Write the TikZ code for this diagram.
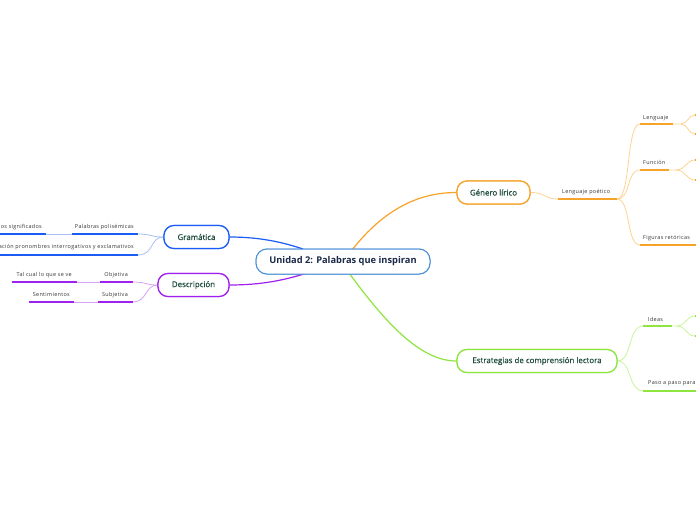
\documentclass[tikz,border=0pt]{standalone}
\usepackage{fontspec}
\setmainfont{Open Sans}
\newfontfamily\subfont[LetterSpace=6]{Open Sans}
\newfontfamily\topicfont[FakeBold=0.6]{Open Sans}
\definecolor{corange}{HTML}{F6A32A}
\definecolor{lorange}{HTML}{FDD391}
\definecolor{cgreen}{HTML}{8EE53F}
\definecolor{lgreen}{HTML}{C8F59B}
\definecolor{cblue}{HTML}{1A5CF5}
\definecolor{lblue}{HTML}{A8C1F7}
\definecolor{cpurple}{HTML}{A020F0}
\definecolor{lpurple}{HTML}{D9A3F5}
\definecolor{cenborder}{HTML}{4A90D9}
\definecolor{navy}{HTML}{1B2A4A}
\definecolor{tgreen}{HTML}{1E4D3A}
\definecolor{subgray}{HTML}{333333}
\tikzset{
  central/.style={draw=cenborder, line width=1pt, rounded corners=11pt, fill=white, text=navy,
    font=\fontsize{9.3}{11}\selectfont\bfseries, inner sep=0pt, minimum height=25pt, minimum width=174pt},
  topic/.style={line width=1.2pt, rounded corners=10pt, fill=white, text=tgreen,
    font=\topicfont\fontsize{7.9}{9}\selectfont, inner sep=0pt, minimum height=23pt},
  sub/.style={font=\subfont\fontsize{5.45}{6.5}\selectfont, text=subgray, inner sep=0pt},
  uline/.style={line width=2pt},
  conn/.style={line width=1.2pt},
  lconn/.style={line width=0.8pt},
}
\begin{document}
\begin{tikzpicture}[x=1pt,y=-1pt]
\useasboundingbox (0,0) rectangle (696,520);
\clip (0,0) rectangle (696,520);
\fill[white] (0,0) rectangle (696,520);

% main connector end points on the central node
\coordinate (cO) at (352,250);
\coordinate (cG) at (349,273);
\coordinate (cB) at (303,249);
\coordinate (cP) at (307,273);

% main nodes (placed first so connectors can use their anchors)
\node[central] (cen) at (343,261.5) {Unidad 2: Palabras que inspiran};
\node[topic, draw=corange, minimum width=73pt] (gen) at (493.5,192.5) {Género lírico};
\node[topic, draw=cgreen, minimum width=160pt] (est) at (537,361) {Estrategias de comprensión lectora};
\node[topic, draw=cblue, minimum width=65pt] (gra) at (196.5,237) {Gramática};
\node[topic, draw=cpurple, minimum width=71pt] (des) at (193.5,285) {Descripción};

\draw[conn, corange] (cO) .. controls (385,208) and (420,192.5) .. (gen.west);
\draw[conn, cgreen] (cG) .. controls (385,322) and (420,361) .. (est.west);
\draw[conn, cblue] (cB) .. controls (285,243) and (262,237) .. (gra.east);
\draw[conn, cpurple] (cP) .. controls (285,280) and (262,285) .. (des.east);

% ---------- Género lírico branch ----------
\coordinate (lpA) at (558,199); \coordinate (lpB) at (617,199);
\node[sub, anchor=west] (lp) at (562,192) {Lenguaje poético};
\draw[lconn, lorange] (gen.east) .. controls (546,192.5) and (544,199) .. (lpA);
\draw[uline, corange] (lpA) -- (lpB);

\coordinate (leA) at (640,124); \coordinate (leB) at (673,124); \coordinate (leC) at (681,124);
\node[sub, anchor=west] (le) at (643,118) {Lenguaje};
\coordinate (fuA) at (640,170); \coordinate (fuB) at (669,170); \coordinate (fuC) at (676,170);
\node[sub, anchor=west] (fu) at (643,162) {Función};
\coordinate (fiA) at (640,245); \coordinate (fiB) at (700,245);
\node[sub, anchor=west] (fi) at (643,238) {Figuras retóricas};

\draw[lconn, lorange] (lpB) .. controls (631,199) and (626,124) .. (leA);
\draw[lconn, lorange] (lpB) .. controls (631,199) and (626,170) .. (fuA);
\draw[lconn, lorange] (lpB) .. controls (631,199) and (626,245) .. (fiA);
\draw[uline, corange] (leA) -- (leB);
\draw[uline, corange] (fuA) -- (fuB);
\draw[uline, corange] (fiA) -- (fiB);

\coordinate (le1) at (695,115); \coordinate (le2) at (695,134);
\coordinate (fu1) at (695,160); \coordinate (fu2) at (695,180);
\draw[lconn, lorange] (leB) -- (leC) .. controls (688,124) and (688,115) .. (le1);
\draw[lconn, lorange] (leC) .. controls (688,124) and (688,134) .. (le2);
\draw[lconn, lorange] (fuB) -- (fuC) .. controls (686,170) and (686,160) .. (fu1);
\draw[lconn, lorange] (fuC) .. controls (686,170) and (686,180) .. (fu2);
\draw[uline, corange] (le1) -- ++(6,0);
\draw[uline, corange] (le2) -- ++(6,0);
\draw[uline, corange] (fu1) -- ++(6,0);
\draw[uline, corange] (fu2) -- ++(6,0);

% ---------- Estrategias branch ----------
\coordinate (idA) at (643,326); \coordinate (idB) at (672,326); \coordinate (idC) at (677,326);
\node[sub, anchor=west] (id) at (648,319) {Ideas};
\coordinate (paA) at (643,391); \coordinate (paB) at (700,391);
\node[sub, anchor=west] (pa) at (648,383.5) {Paso a paso para};
\draw[lconn, lgreen] (est.east) .. controls (632,361) and (628,326) .. (idA);
\draw[lconn, lgreen] (est.east) .. controls (632,361) and (628,391) .. (paA);
\draw[uline, cgreen] (idA) -- (idB);
\draw[uline, cgreen] (paA) -- (paB);
\coordinate (id1) at (695,316); \coordinate (id2) at (695,336);
\draw[lconn, lgreen] (idB) -- (idC) .. controls (686,326) and (686,316) .. (id1);
\draw[lconn, lgreen] (idC) .. controls (686,326) and (686,336) .. (id2);
\draw[uline, cgreen] (id1) -- ++(6,0);
\draw[uline, cgreen] (id2) -- ++(6,0);

% ---------- Gramática branch ----------
\coordinate (ppA) at (72,234); \coordinate (ppB) at (138,234);
\node[sub, anchor=east] (pp) at (134,227) {Palabras polisémicas};
\coordinate (osA) at (-5,234); \coordinate (osB) at (46,234);
\node[sub, anchor=east] (os) at (42,227) {os significados};
\coordinate (acA) at (-5,255); \coordinate (acB) at (138,255);
\node[sub, anchor=east] (ac) at (134,247.5) {ación pronombres interrogativos y exclamativos};
\draw[lconn, lblue] (gra.west) .. controls (150,237) and (152,234) .. (ppB);
\draw[lconn, lblue] (gra.west) .. controls (150,237) and (154,255) .. (acB);
\draw[lconn, lblue] (ppA) -- (osB);
\draw[uline, cblue] (ppA) -- (ppB);
\draw[uline, cblue] (osA) -- (osB);
\draw[uline, cblue] (acA) -- (acB);

% ---------- Descripción branch ----------
\coordinate (obA) at (100,282); \coordinate (obB) at (133,282);
\node[sub, anchor=east] (ob) at (128,275) {Objetiva};
\coordinate (tcA) at (12,282); \coordinate (tcB) at (77,282);
\node[sub, anchor=east] (tc) at (72,275) {Tal cual lo que se ve};
\coordinate (suA) at (98,302); \coordinate (suB) at (133,302);
\node[sub, anchor=east] (su) at (128,295) {Subjetiva};
\coordinate (seA) at (29,302); \coordinate (seB) at (74,302);
\node[sub, anchor=east] (se) at (70,295) {Sentimientos};
\draw[lconn, lpurple] (des.west) .. controls (145,285) and (147,282) .. (obB);
\draw[lconn, lpurple] (des.west) .. controls (145,285) and (147,302) .. (suB);
\draw[lconn, lpurple] (obA) -- (tcB);
\draw[lconn, lpurple] (suA) -- (seB);
\draw[uline, cpurple] (obA) -- (obB);
\draw[uline, cpurple] (tcA) -- (tcB);
\draw[uline, cpurple] (suA) -- (suB);
\draw[uline, cpurple] (seA) -- (seB);

% redraw main nodes on top of connector ends
\node[central] at (cen) {Unidad 2: Palabras que inspiran};
\node[topic, draw=corange, minimum width=73pt] at (gen) {Género lírico};
\node[topic, draw=cgreen, minimum width=160pt] at (est) {Estrategias de comprensión lectora};
\node[topic, draw=cblue, minimum width=65pt] at (gra) {Gramática};
\node[topic, draw=cpurple, minimum width=71pt] at (des) {Descripción};
\end{tikzpicture}
\end{document}
